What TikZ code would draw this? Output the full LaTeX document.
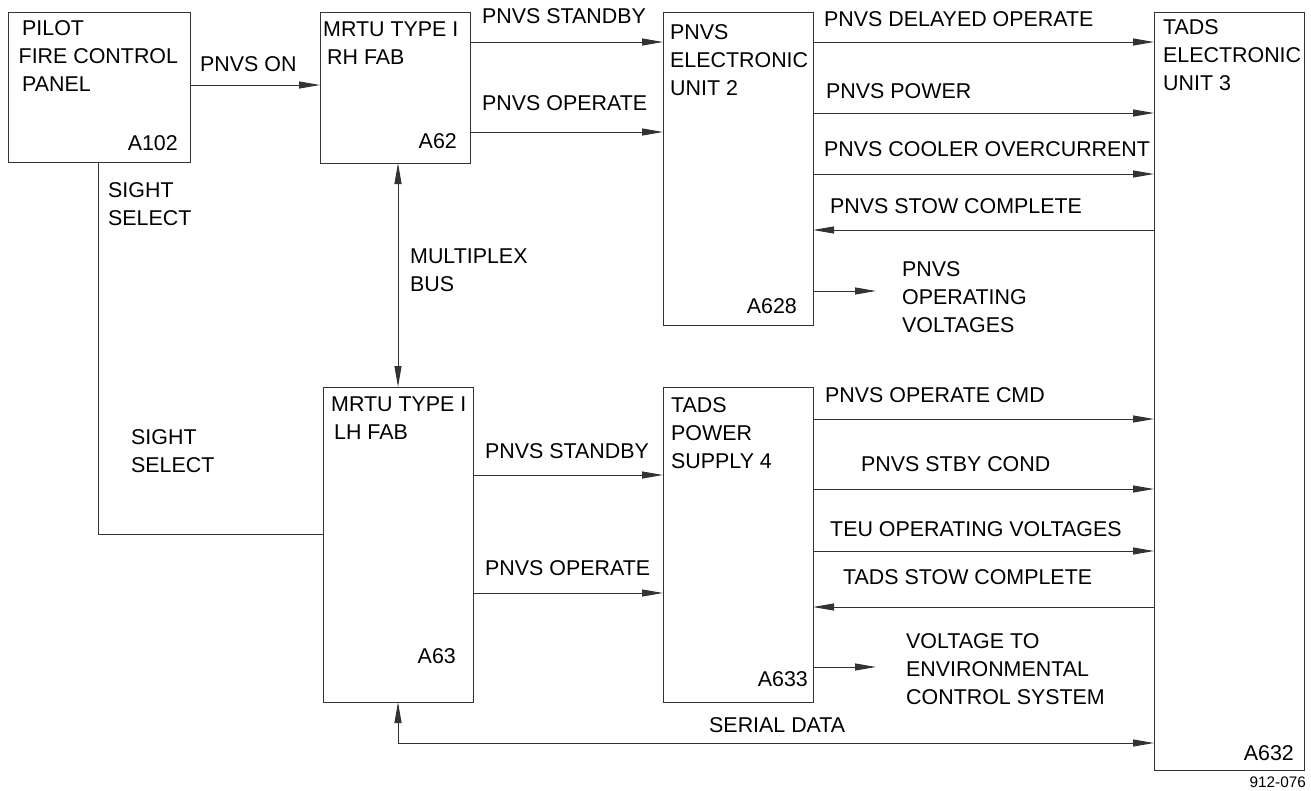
\documentclass[tikz,border=0pt]{standalone}
\usepackage{fontspec}
\setmainfont{Liberation Sans}
\usetikzlibrary{arrows.meta}
\begin{document}
\begin{tikzpicture}[x=1pt,y=-1pt,
  box/.style={draw=black!80, line width=1pt, anchor=north west, inner sep=0, outer sep=0},
  txt/.style={inner sep=0, anchor=north west, align=left, font=\fontsize{21.4}{28}\selectfont},
  rtxt/.style={inner sep=0, anchor=north east, align=right, font=\fontsize{21.4}{28}\selectfont},
  ln/.style={draw=black!80, line width=1pt},
  arr/.style={ln, -{Triangle[length=21pt,width=7pt]}},
  dbl/.style={ln, {Triangle[length=21pt,width=7pt]}-{Triangle[length=21pt,width=7pt]}}
]
\useasboundingbox (0,0) rectangle (1311,790);

% boxes
\node[box, minimum width=182pt, minimum height=150pt] (fcp) at (8,12) {};
\node[box, minimum width=150pt, minimum height=151pt] (rh) at (320,12) {};
\node[box, minimum width=150pt, minimum height=313pt] (eu2) at (663,12) {};
\node[box, minimum width=150pt, minimum height=758pt] (eu3) at (1154,12) {};
\node[box, minimum width=150pt, minimum height=315pt] (lh) at (323,387) {};
\node[box, minimum width=150pt, minimum height=315pt] (ps) at (663,387) {};

% box texts
\node[txt] (tfcp) at (22,20.5) {PILOT\\\hspace*{-3.5pt}FIRE CONTROL\\PANEL};
\node[rtxt] (nfcp) at (178,135) {A102};
\node[txt] (trh) at (323,22) {MRTU TYPE I\\\hspace*{4pt}RH FAB};
\node[rtxt] (nrh) at (457,133) {A62};
\node[txt] (teu2) at (670,24) {PNVS\\ELECTRONIC\\UNIT 2};
\node[rtxt] (neu2) at (797,298) {A628};
\node[txt] (teu3) at (1163,19) {TADS\\ELECTRONIC\\UNIT 3};
\node[rtxt] (neu3) at (1294,745) {A632};
\node[txt] (tlh) at (331,397) {MRTU TYPE I\\\hspace*{3pt}LH FAB};
\node[rtxt] (nlh) at (456,648) {A63};
\node[txt] (tps) at (671,397) {TADS\\POWER\\SUPPLY 4};
\node[rtxt] (nps) at (808,671) {A633};

% connector labels
\node[txt] (lon) at (200,56) {PNVS ON};
\node[txt] (lsb1) at (482,8) {PNVS STANDBY};
\node[txt] (lop1) at (482,95) {PNVS OPERATE};
\node[txt] (ldel) at (824,11) {PNVS DELAYED OPERATE};
\node[txt] (lpow) at (826,83) {PNVS POWER};
\node[txt] (lcool) at (824,141) {PNVS COOLER OVERCURRENT};
\node[txt] (lstow1) at (830,198) {PNVS STOW COMPLETE};
\node[txt] (lopv) at (902,261) {PNVS\\OPERATING\\VOLTAGES};
\node[txt] (lss1) at (108,182) {SIGHT\\SELECT};
\node[txt] (lmux) at (410,249) {MULTIPLEX\\BUS};
\node[txt] (lss2) at (131,429) {SIGHT\\SELECT};
\node[txt] (lsb2) at (485,443) {PNVS STANDBY};
\node[txt] (lop2) at (485,560) {PNVS OPERATE};
\node[txt] (lcmd) at (825,387) {PNVS OPERATE CMD};
\node[txt] (lstby) at (861,456) {PNVS STBY COND};
\node[txt] (lteu) at (830,521) {TEU OPERATING VOLTAGES};
\node[txt] (lstow2) at (843,569) {TADS STOW COMPLETE};
\node[txt] (lecs) at (906,633) {VOLTAGE TO\\ENVIRONMENTAL\\CONTROL SYSTEM};
\node[txt] (lser) at (709,717) {SERIAL DATA};
\node[inner sep=0, anchor=north east, font=\fontsize{15.3}{18}\selectfont] (fig) at (1306,777) {912-076};

% free ends
\coordinate (o1) at (876,291);
\coordinate (o2) at (876,667);

% connectors
\draw[arr] (fcp.east |- 0,85) -- (rh.west |- 0,85);
\draw[arr] (rh.east |- 0,42) -- (eu2.west |- 0,42);
\draw[arr] (rh.east |- 0,132) -- (eu2.west |- 0,132);
\draw[arr] (eu2.east |- 0,42) -- (eu3.west |- 0,42);
\draw[arr] (eu2.east |- 0,113) -- (eu3.west |- 0,113);
\draw[arr] (eu2.east |- 0,174) -- (eu3.west |- 0,174);
\draw[arr] (eu3.west |- 0,230) -- (eu2.east |- 0,230);
\draw[arr] (eu2.east |- o1) -- (o1);
\draw[dbl] (rh.south -| 398,0) -- (lh.north -| 398,0);
\draw[ln] (fcp.south -| 98,0) |- (lh.west |- 0,534);
\draw[arr] (lh.east |- 0,475) -- (ps.west |- 0,475);
\draw[arr] (lh.east |- 0,593) -- (ps.west |- 0,593);
\draw[arr] (ps.east |- 0,419) -- (eu3.west |- 0,419);
\draw[arr] (ps.east |- 0,489) -- (eu3.west |- 0,489);
\draw[arr] (ps.east |- 0,551) -- (eu3.west |- 0,551);
\draw[arr] (eu3.west |- 0,607) -- (ps.east |- 0,607);
\draw[arr] (ps.east |- o2) -- (o2);
\draw[dbl] (lh.south -| 398,0) |- (eu3.west |- 0,743);
\end{tikzpicture}
\end{document}
